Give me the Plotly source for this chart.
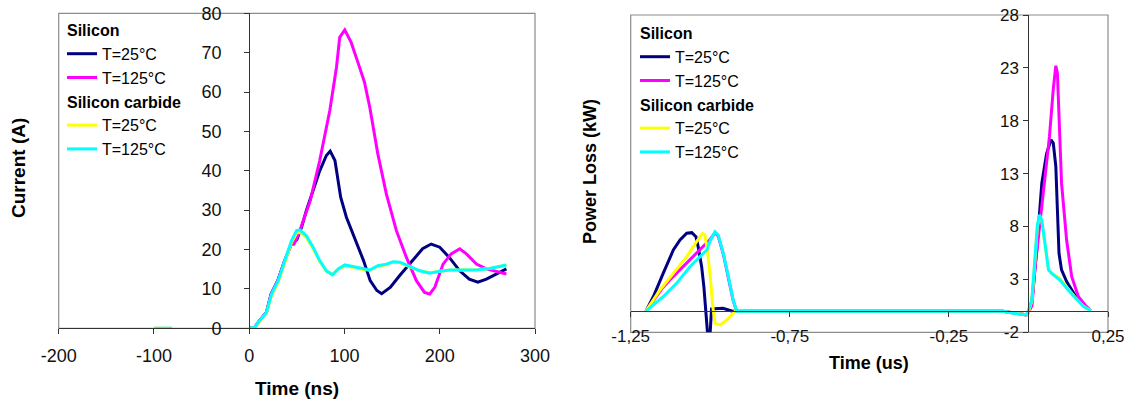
import plotly.graph_objects as go

# ---------------- Left chart: Current (A) vs Time (ns) ----------------
left_t_si25 = [0, 6, 11, 18, 23, 30, 37, 44, 50, 55, 60, 67, 74, 81, 85, 90, 93, 96, 102, 109, 120, 127,
               134, 139, 148, 158, 170, 182, 191, 200, 210, 221, 231, 240, 249, 259, 270]
left_i_si25 = [0, 0.3, 2, 4, 8.7, 12.1, 17, 21.3, 22.5, 25.7, 29.9, 35, 40, 43.9, 45, 42.6, 38.4, 33.3, 28.2,
               24, 17.2, 12.1, 9.6, 8.8, 10.4, 13.4, 16.8, 20.2, 21.4, 20.6, 18, 14.6, 12.5, 11.7, 12.5, 13.8, 15.1]

left_t_si125 = [0, 6, 11, 18, 23, 30, 37, 44, 47, 52, 57, 64, 74, 84.6, 91.6, 95, 100.3, 107, 114, 121, 126.6,
                135, 144, 154.5, 165, 175.5, 184, 189.5, 194.8, 203.5, 212, 221, 228, 238.5, 249, 259.4, 270]
left_i_si125 = [0, 0.3, 2, 4, 8.7, 12.1, 17, 21.3, 21.4, 24, 27.5, 32.4, 42.6, 55.3, 66.3, 73.9, 75.8, 72.6,
                67.6, 62.5, 56.1, 44.3, 34.1, 24.8, 18.0, 12.1, 9.1, 8.7, 10.4, 16.3, 18.9, 20.2, 18.9, 16.3,
                15.1, 14.5, 13.8]

left_t_sic25 = [-100, -81, None, 0, 6, 11, 18, 23.4, 30.4, 37.4, 44.4, 49.7, 53, 60, 67, 74, 81, 87.4, 93.4,
                100.3, 109, 119.6, 126.6, 135, 144, 151, 158, 168.5, 179, 189.5, 200, 210.5, 224.5, 238.5,
                252.5, 263, 270]
left_i_sic25 = [0, 0, None, 0, 0.2, 1.8, 3.8, 8.3, 11.8, 16.8, 21.8, 24.2, 24.5, 23.0, 20.3, 17.0, 14.5, 13.7,
                15.0, 15.8, 15.5, 14.9, 14.8, 15.7, 16.2, 16.8, 16.7, 15.6, 14.6, 14.1, 14.5, 14.8, 14.8, 14.9,
                15.2, 15.6, 16.0]

left_t_sic125 = [-100, -81, None, 0, 6, 11, 18, 23.4, 30.4, 37.4, 44.4, 49.7, 53, 60, 67, 74, 81, 87.4, 93.4,
                 100.3, 109, 119.6, 126.6, 135, 144, 151, 158, 168.5, 179, 189.5, 200, 210.5, 224.5, 238.5,
                 252.5, 263, 270]
left_i_sic125 = [0, 0, None, 0, 0.3, 2, 4, 8.7, 12.1, 17.2, 22.3, 24.8, 25, 23.5, 20.6, 17.2, 14.6, 13.6, 15.1,
                 16.1, 15.7, 15.1, 14.8, 15.9, 16.3, 16.9, 16.8, 15.7, 14.6, 14.0, 14.5, 14.8, 14.8, 14.8,
                 15.2, 15.7, 16.1]

left_xticks = [-200, -100, 0, 100, 200, 300]
left_xlabels = ['-200', '-100', '0', '100', '200', '300']
left_yticks = [0, 10, 20, 30, 40, 50, 60, 70, 80]
left_ylabels = ['0', '10', '20', '30', '40', '50', '60', '70', '80']

# ---------------- Right chart: Power Loss (kW) vs Time (us) ----------------
right_t_si25 = [-1.202, -1.179, -1.148, -1.116, -1.095, -1.074, -1.058, -1.045, -1.038, -1.027, -1.02, -1.013,
                -1.009, -1.0, -0.996, -0.96, -0.94, -0.93, -0.5, -0.08, -0.04, -0.008, 0.0, 0.011, 0.026,
                0.042, 0.057, 0.071, 0.078, 0.086, 0.091, 0.096, 0.104, 0.12, 0.146, 0.173, 0.194]
right_p_si25 = [0, 1.36, 3.57, 5.78, 6.73, 7.36, 7.42, 7.04, 6.1, 4.2, 2.3, 0.1, -1.9, -1.9, 0.2, 0.27, 0.1, 0,
                0, 0, -0.2, -0.35, -0.1, 1.0, 5.78, 12.1, 14.9, 16.2, 15.9, 13.7, 9.56, 5.47, 3.9, 2.8, 1.53,
                0.58, 0.1]

right_t_si125 = [-1.202, -1.15, -1.127, -1.074, -1.032, -1.017, -1.0, -0.985, -0.975, -0.959, -0.943, -0.928,
                 -0.917, -0.5, -0.08, -0.04, -0.008, 0.0, 0.011, 0.021, 0.037, 0.052, 0.066, 0.078, 0.086,
                 0.091, 0.097, 0.104, 0.12, 0.136, 0.157, 0.178, 0.194]
right_p_si125 = [0, 2.2, 2.95, 4.52, 5.78, 6.25, 6.8, 7.4, 7.1, 5.4, 3.2, 1.0, 0, 0, 0, -0.2, -0.35, -0.1, 0.5,
                 4.2, 8.5, 12.5, 16.5, 21, 23.2, 22.5, 17.5, 12.1, 6.7, 3.26, 1.37, 0.58, 0.1]

right_t_sic25 = [-1.202, -1.158, -1.116, -1.074, -1.043, -1.024, -1.017, -1.009, -1.0, -0.992, -0.985, -0.969,
                 -0.948, -0.922, -0.5, -0.08, -0.04, -0.008, 0.0, 0.011, 0.021, 0.028, 0.035, 0.042, 0.052,
                 0.063, 0.073, 0.099, 0.125, 0.152, 0.173, 0.197]
right_p_sic25 = [0, 2.0, 3.57, 5.15, 6.57, 7.36, 7.2, 5.78, 3.26, 0.43, -1.15, -1.3, -0.84, 0, 0, 0, -0.2, -0.35,
                 -0.1, 1.0, 5.0, 8.0, 8.9, 8.5, 6.3, 3.9, 3.6, 3.05, 2.1, 1.1, 0.45, 0.05]

right_t_sic125 = [-1.202, -1.148, -1.106, -1.064, -1.032, -1.011, -0.999, -0.985, -0.975, -0.959, -0.943,
                  -0.928, -0.917, -0.5, -0.08, -0.047, -0.005, 0.0107, 0.021, 0.028, 0.035, 0.042, 0.052,
                  0.063, 0.073, 0.099, 0.125, 0.152, 0.173, 0.197]
right_p_sic125 = [0, 1.36, 2.63, 4.2, 5.15, 5.78, 6.73, 7.5, 7.2, 5.47, 3.26, 1.06, 0, 0, 0, -0.2, -0.36, 1.06,
                  5.15, 8.15, 9.1, 8.6, 6.4, 3.9, 3.57, 2.95, 2.0, 1.06, 0.43, 0.05]

right_xticks = [-1.25, -0.75, -0.25, 0.25]
right_xlabels = ['-1,25', '-0,75', '-0,25', '0,25']
right_yticks = [-2, 3, 8, 13, 18, 23, 28]
right_ylabels = ['-2', '3', '8', '13', '18', '23', '28']

series_names = ['T=25°C', 'T=125°C', 'T=25°C', 'T=125°C']
group_titles = ['Silicon', 'Silicon carbide']
colors = ['#000080', '#FF00FF', '#FFFF00', '#00FFFF']

FONT = 'Liberation Sans, Arial, sans-serif'
W, H = 1133, 400

# layout geometry (pixels -> paper fractions)
L_XDOM = [58.7 / W, 535 / W]
L_YDOM = [1 - 328.3 / H, 1 - 13.3 / H]
R_XDOM = [630.7 / W, 1108 / W]
R_YDOM = [1 - 332.3 / H, 1 - 15 / H]
L_XR, L_YR = [-200, 300], [0, 80]
R_XR, R_YR = [-1.25, 0.25], [-2, 28]

fig = go.Figure()

left_sets = [(left_t_si25, left_i_si25), (left_t_si125, left_i_si125),
             (left_t_sic25, left_i_sic25), (left_t_sic125, left_i_sic125)]
right_sets = [(right_t_si25, right_p_si25), (right_t_si125, right_p_si125),
              (right_t_sic25, right_p_sic25), (right_t_sic125, right_p_sic125)]

LEG_FS = 16
for k, ((lx, ly), (rx, ry)) in enumerate(zip(left_sets, right_sets)):
    g = k // 2
    for (xx, yy, xa, ya, lg) in [(lx, ly, 'x', 'y', 'legend'), (rx, ry, 'x2', 'y2', 'legend2')]:
        fig.add_trace(go.Scatter(
            x=xx, y=yy, mode='lines', name=series_names[k],
            line=dict(color=colors[k], width=3),
            xaxis=xa, yaxis=ya, legend=lg,
            legendgroup=f'{lg}_{g}',
            legendgrouptitle=dict(text=f'<b>{group_titles[g]}</b>',
                                  font=dict(family=FONT, size=LEG_FS, color='black')),
            connectgaps=False, hoverinfo='x+y+name'))

axis_common = dict(showgrid=False, zeroline=False, showline=True, linecolor='#333333', linewidth=1.2,
                   ticks='outside', ticklen=5, tickcolor='#333333', tickwidth=1.2,
                   tickmode='array', fixedrange=True, automargin=False)

l_ypos = L_XDOM[0] + (0 - L_XR[0]) / (L_XR[1] - L_XR[0]) * (L_XDOM[1] - L_XDOM[0])
r_ypos = R_XDOM[0] + (0 - R_XR[0]) / (R_XR[1] - R_XR[0]) * (R_XDOM[1] - R_XDOM[0])
r_xpos = R_YDOM[0] + (0 - R_YR[0]) / (R_YR[1] - R_YR[0]) * (R_YDOM[1] - R_YDOM[0])

fig.update_layout(
    width=W, height=H, margin=dict(l=0, r=0, t=0, b=0, autoexpand=False),
    paper_bgcolor='white', plot_bgcolor='white',
    font=dict(family=FONT, color='#111111'),
    xaxis=dict(axis_common, domain=L_XDOM, range=L_XR, anchor='y',
               tickvals=left_xticks, ticktext=left_xlabels,
               tickfont=dict(size=18, family=FONT), ticklabelstandoff=6),
    yaxis=dict(axis_common, domain=L_YDOM, range=L_YR, anchor='free', position=l_ypos,
               tickvals=left_yticks, ticktext=left_ylabels,
               tickfont=dict(size=18, family=FONT), ticklabelstandoff=19),
    xaxis2=dict(axis_common, domain=R_XDOM, range=R_XR, anchor='free', position=r_xpos,
                tickvals=right_xticks, ticktext=right_xlabels,
                tickfont=dict(size=17, family=FONT), ticklabelstandoff=4),
    yaxis2=dict(axis_common, domain=R_YDOM, range=R_YR, anchor='free', position=r_ypos,
                tickvals=right_yticks, ticktext=right_ylabels,
                tickfont=dict(size=17, family=FONT), ticklabelstandoff=1),
    legend=dict(x=62 / W, y=1 - 13 / H, xanchor='left', yanchor='top', bgcolor='rgba(0,0,0,0)',
                tracegroupgap=0, itemwidth=30, font=dict(family=FONT, size=LEG_FS, color='black')),
    legend2=dict(x=635 / W, y=1 - 16 / H, xanchor='left', yanchor='top', bgcolor='rgba(0,0,0,0)',
                 tracegroupgap=0, itemwidth=30, font=dict(family=FONT, size=LEG_FS, color='black')),
    showlegend=True,
)

# plot-area frames
for xr, yr in [('x domain', 'y domain'), ('x2 domain', 'y2 domain')]:
    fig.add_shape(type='rect', xref=xr, yref=yr, x0=0, x1=1, y0=0, y1=1,
                  line=dict(color='#8c8c8c', width=1.2), layer='below')

# axis titles
titles = [
    dict(text='<b>Current (A)</b>', x=19 / W, y=1 - 168 / H, textangle=-90, size=19),
    dict(text='<b>Time (ns)</b>', x=297 / W, y=1 - 388 / H, textangle=0, size=19),
    dict(text='<b>Power Loss (kW)</b>', x=590 / W, y=1 - 172 / H, textangle=-90, size=18),
    dict(text='<b>Time (us)</b>', x=869 / W, y=1 - 363 / H, textangle=0, size=18),
]
for t in titles:
    fig.add_annotation(text=t['text'], x=t['x'], y=t['y'], xref='paper', yref='paper',
                       xanchor='center', yanchor='middle', showarrow=False, textangle=t['textangle'],
                       font=dict(family=FONT, size=t['size'], color='black'))

fig.write_html('out.html')
